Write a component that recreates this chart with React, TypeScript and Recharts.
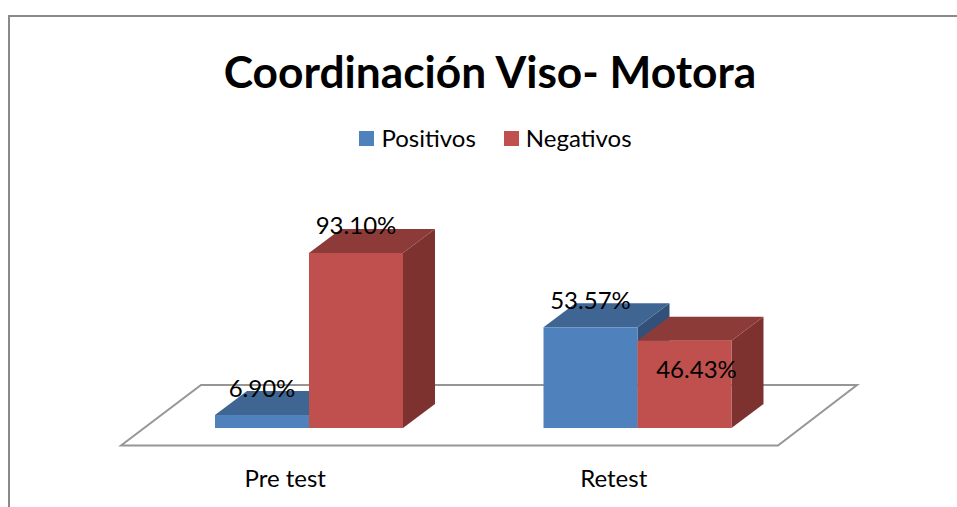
import { BarChart, Bar, XAxis, YAxis, Legend, LabelList } from 'recharts';

const categories = ['Pre test', 'Retest'];
const positivos = [6.9, 53.57];
const negativos = [93.1, 46.43];

const BLUE = { front: '#4F81BD', top: '#3F6592', side: '#335079' };
const RED = { front: '#C0504D', top: '#8D3B39', side: '#7D3230' };
const DEPTH_X = 32;
const DEPTH_Y = 24;
const FONT = 'Lato, Carlito, sans-serif';

const data = categories.map((name, i) => ({ name, Positivos: positivos[i], Negativos: negativos[i] }));

// front face from the scale, top and side faces pushed back by the depth
const Box3D = ({ x, y, width, height, faces }: any) => (
  <g>
    <polygon
      points={`${x + width},${y} ${x + width + DEPTH_X},${y - DEPTH_Y} ${x + width + DEPTH_X},${y + height - DEPTH_Y} ${x + width},${y + height}`}
      fill={faces.side}
    />
    <polygon
      points={`${x},${y} ${x + DEPTH_X},${y - DEPTH_Y} ${x + width + DEPTH_X},${y - DEPTH_Y} ${x + width},${y}`}
      fill={faces.top}
    />
    <rect x={x} y={y} width={width} height={height} fill={faces.front} />
  </g>
);

const renderValue = (shifts: { dx: number; dy: number }[]) => (props: any) => {
  const { x, y, width, value, index } = props;
  return (
    <text
      x={x + width / 2 + shifts[index].dx}
      y={y + shifts[index].dy}
      textAnchor="middle"
      dominantBaseline="central"
      fontFamily={FONT}
      fontSize={24}
      fill="#000"
    >
      {`${Number(value).toFixed(2)}%`}
    </text>
  );
};

const CategoryTick = ({ x, y, payload }: any) => (
  <text x={x - 24} y={y + 41} textAnchor="middle" dominantBaseline="central" fontFamily={FONT} fontSize={24} fill="#000">
    {payload.value}
  </text>
);

const LegendRow = ({ payload }: any) => (
  <div style={{ display: 'flex', justifyContent: 'center', gap: 28, fontFamily: FONT, fontSize: 24, lineHeight: '30px', color: '#000' }}>
    {(payload ?? []).map((item: any) => (
      <span key={item.value} style={{ display: 'flex', alignItems: 'center', gap: 7 }}>
        <span style={{ width: 15, height: 15, background: item.color, display: 'block' }} />
        {item.value}
      </span>
    ))}
  </div>
);

export default function App() {
  return (
    <div style={{ position: 'absolute', left: 0, top: 0, width: 957, height: 507, background: '#fff', overflow: 'hidden' }}>
      <BarChart
        width={957}
        height={507}
        data={data}
        margin={{ top: 240, right: 155, bottom: 0, left: 145 }}
        barSize={94}
        barGap={0}
      >
        <path d="M9 507 V16 H957" fill="none" stroke="#8A8A8A" strokeWidth={2} />
        <text x={490} y={70} textAnchor="middle" dominantBaseline="central" fontFamily={FONT} fontSize={44.3} fontWeight={700} fill="#000">
          Coordinación Viso- Motora
        </text>
        <polygon points="121,445.5 201,385 857,385 778,445.5" fill="#fff" stroke="#969696" strokeWidth={2} />
        <XAxis dataKey="name" axisLine={false} tickLine={false} height={79} tick={<CategoryTick />} interval={0} />
        <YAxis hide domain={[0, 100]} />
        <Legend
          layout="horizontal"
          verticalAlign="middle"
          itemSorter={null}
          content={<LegendRow />}
          wrapperStyle={{ top: 123, left: 34, width: 923, bottom: 'auto' }}
        />
        <Bar dataKey="Positivos" fill={BLUE.front} isAnimationActive={false} shape={(p: any) => <Box3D {...p} faces={BLUE} />}>
          <LabelList dataKey="Positivos" content={renderValue([{ dx: 0, dy: -28 }, { dx: 0, dy: -28 }])} />
        </Bar>
        <Bar dataKey="Negativos" fill={RED.front} isAnimationActive={false} shape={(p: any) => <Box3D {...p} faces={RED} />}>
          <LabelList dataKey="Negativos" content={renderValue([{ dx: 0, dy: -28 }, { dx: 12, dy: 28 }])} />
        </Bar>
      </BarChart>
    </div>
  );
}
